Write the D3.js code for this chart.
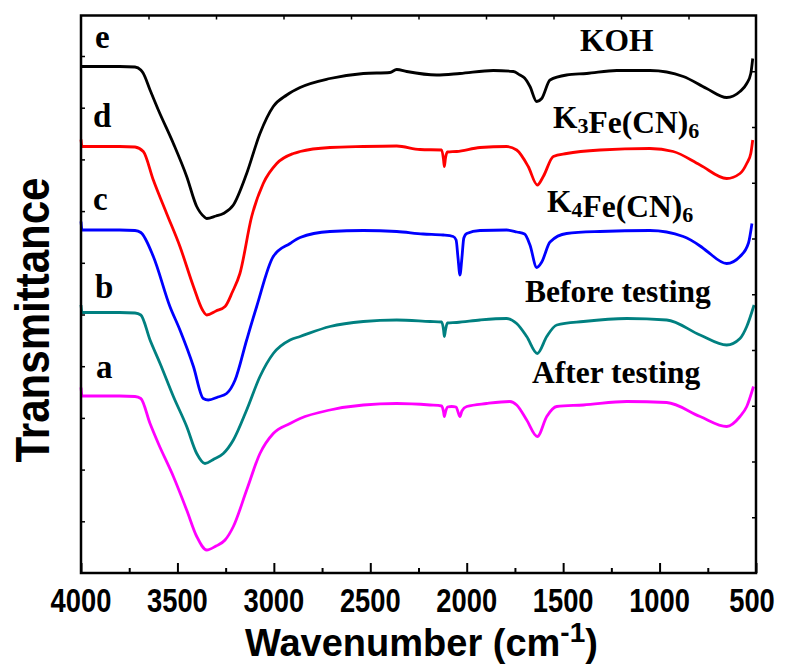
<!DOCTYPE html>
<html>
<head>
<meta charset="utf-8">
<script src="https://cdn.jsdelivr.net/npm/d3@7"></script>
<style>
  body { margin: 0; background: #fff; overflow: hidden; }
  .tick-label { font-family: "Liberation Sans", Arial, sans-serif; font-weight: bold; }
  .curve-label { font-family: "Liberation Serif", "Times New Roman", serif; font-weight: bold; }
</style>
</head>
<body>
<script>
// FTIR spectra, offset stacked (wavenumber in cm-1, transmittance in a.u.)

var xTicks = [4000, 3500, 3000, 2500, 2000, 1500, 1000, 500];
var xMinor = [3750, 3250, 2750, 2250, 1750, 1250, 750];

var letters = ["e", "d", "c", "b", "a"];
var names = ["KOH", "K3Fe(CN)6", "K4Fe(CN)6", "Before testing", "After testing"];
var colors = ["#000000", "#ff0000", "#0000ff", "#008080", "#ff00ff"];

var wnE = [4000,3900,3800,3720,3690,3678,3642,3599,3521,3452,3400,3360,3348,3300,3262,3210,3141,3072,3003,2933,2864,2709,2536,2398,2363,2311,2156,2035,1862,1758,1724,1700,1672,1637,1611,1568,1482,1378,1222,1049,877,756,652,583,548,527,517];
var tE = [101.3,101.3,101.3,101.2,100.6,100,96.6,92.6,85.9,79.3,73.3,71.2,70.9,71.4,71.9,73.6,79.9,87.9,93.3,95.6,97.1,98.9,99.9,100.1,100.7,100.3,99.6,99.9,100.5,100.3,99.6,99.0,97.3,94.3,94.9,98.6,99.6,99.9,100.5,100.5,99.3,96.9,95.1,96.3,97.9,99.9,102.9];

var wnD = [4000,3995,3900,3800,3720,3677,3625,3556,3487,3417,3370,3348,3300,3253,3215,3176,3115,3055,2985,2899,2864,2709,2536,2363,2242,2130,2120,2116,2110,2100,2052,1931,1793,1741,1681,1634,1603,1551,1482,1309,1050,929,790,652,583,548,527,517];
var tD = [86.7,85.3,85.3,85.3,85.2,84.3,78.6,71.9,65.3,57.3,52.6,51.6,52.4,53.3,56.2,59.9,71.3,77.9,81.9,83.9,84.3,85.1,85.3,85.4,84.7,84.6,82.6,81.3,83,84.2,84.3,85.1,85.3,84.6,81.3,77.6,79.3,83.3,83.9,84.6,84.9,84.3,81.6,78.9,79.9,81.9,83.9,86.6];

var wnC = [4000,3995,3900,3800,3720,3690,3625,3539,3487,3417,3366,3340,3290,3245,3201,3141,3089,3003,2916,2864,2709,2536,2363,2226,2122,2070,2055,2045,2035,2025,2015,2000,1931,1793,1740,1700,1672,1637,1611,1568,1482,1309,1050,877,790,756,652,583,539,521];
var tC = [70.3,68.6,68.6,68.6,68.5,68.1,63.3,53.3,48.6,41.3,34.9,34.6,35.2,35.9,38.6,46.6,53.3,63.3,65.9,67.1,68.3,68.5,68.3,67.8,67.6,67.3,66.6,63,59.6,63,67,67.9,68.5,68.6,68.2,67.8,65.6,61.1,62.2,66.2,67.9,68.3,68.5,67.3,65.4,64.4,61.9,63.3,66,69.9];

var wnB = [4000,3995,3900,3800,3720,3690,3642,3590,3521,3452,3400,3357,3310,3262,3210,3141,3072,3003,2916,2864,2709,2536,2363,2190,2130,2120,2116,2110,2100,2052,1931,1793,1741,1689,1634,1585,1533,1395,1170,963,790,652,583,548,510];
var tB = [53.6,52.1,52.1,52.1,52,51.6,46.6,41.9,35.3,29.3,23.9,21.9,22.8,23.9,26.6,32.6,39.3,43.9,46.6,47.3,49.3,50.3,50.6,50.3,50.2,48.6,47.3,48.6,50,50.1,50.6,50.9,49.9,47.3,43.9,47.3,49.6,50.3,50.9,50.6,47.6,45.6,46.9,49.3,53.6];

var wnA = [4000,3995,3900,3800,3720,3690,3642,3599,3521,3452,3400,3348,3300,3253,3210,3141,3072,3003,2916,2864,2709,2536,2363,2190,2130,2120,2116,2110,2100,2078,2055,2045,2035,2025,2000,1897,1776,1741,1689,1634,1585,1533,1395,1170,963,790,652,583,548,513];
var tA = [37.1,35.4,35.4,35.4,35.3,34.9,29.9,25.9,19.3,12.6,7.3,4.6,5.4,6.6,9.3,16.6,23.9,27.9,29.9,30.9,32.6,33.6,33.9,33.6,33.4,32.2,31.3,32.2,33.2,33.3,33.2,32.2,31.3,32.4,33.3,33.9,34.3,33.6,30.6,27.3,31.3,33.3,33.6,34.3,34.1,31.3,29.3,31.3,33.3,37.3];

var wns = [wnE, wnD, wnC, wnB, wnA];
var vals = [tE, tD, tC, tB, tA];

var width = 785, height = 670;
var margin = {top: 15.5, right: 28, bottom: 97, left: 81};

var svg = d3.select("body").append("svg")
    .attr("width", width)
    .attr("height", height);

var x = d3.scaleLinear()
    .domain([4000, 500])
    .range([margin.left, width - margin.right - 1]);

var y = d3.scaleLinear()
    .domain([0, 111.5])
    .range([height - margin.bottom, margin.top]);

var x0 = x.range()[0], x1 = x.range()[1];
var y0 = y.range()[0], y1 = y.range()[1];

// curves
var line = d3.line()
    .x(function(d) { return x(d[0]); })
    .y(function(d) { return y(d[1]); })
    .curve(d3.curveMonotoneX);

wns.forEach(function(w, i) {
  var pts = w.map(function(v, j) { return [v, vals[i][j]]; });
  svg.append("path")
      .datum(pts)
      .attr("fill", "none")
      .attr("stroke", colors[i])
      .attr("stroke-width", 2.8)
      .attr("stroke-linejoin", "round")
      .attr("d", line);
});

// bottom axis ticks (inward)
svg.append("g")
    .attr("transform", "translate(0," + y0 + ")")
    .call(d3.axisBottom(x).tickValues(xTicks).tickSize(-10).tickFormat(""))
    .call(function(g) { g.select(".domain").remove(); })
    .selectAll("line").attr("stroke-width", 2);

svg.append("g")
    .attr("transform", "translate(0," + y0 + ")")
    .call(d3.axisBottom(x).tickValues(xMinor).tickSize(-5).tickFormat(""))
    .call(function(g) { g.select(".domain").remove(); })
    .selectAll("line").attr("stroke-width", 2);

// top axis: 10 divisions
svg.append("g")
    .attr("transform", "translate(0," + y1 + ")")
    .call(d3.axisTop(x).tickValues(d3.range(3650, 600, -350)).tickSize(-4).tickFormat(""))
    .call(function(g) { g.select(".domain").remove(); })
    .selectAll("line").attr("stroke-width", 1.5);

// left axis ticks
svg.append("g")
    .attr("transform", "translate(" + x0 + ",0)")
    .call(d3.axisLeft(y).tickValues(d3.range(1, 11).map(function(k) { return k * 10.34; })).tickSize(-4).tickFormat(""))
    .call(function(g) { g.select(".domain").remove(); })
    .selectAll("line").attr("stroke-width", 1.5);

// right axis: 10 divisions
svg.append("g")
    .attr("transform", "translate(" + x1 + ",0)")
    .call(d3.axisRight(y).tickValues(d3.range(1, 10).map(function(k) { return k * 11.15; })).tickSize(-4).tickFormat(""))
    .call(function(g) { g.select(".domain").remove(); })
    .selectAll("line").attr("stroke-width", 1.5);

// frame
svg.append("rect")
    .attr("x", x0).attr("y", y1)
    .attr("width", x1 - x0).attr("height", y0 - y1)
    .attr("fill", "none")
    .attr("stroke", "#000")
    .attr("stroke-width", 2.5);

// tick labels
svg.selectAll(".xlab")
  .data(xTicks)
  .enter().append("text")
    .attr("class", "tick-label xlab")
    .attr("x", function(d) { return d === 500 ? x(d) - 4 : x(d); })
    .attr("y", 612)
    .attr("text-anchor", "middle")
    .attr("font-size", 34)
    .attr("textLength", function(d) { return String(d).length * 15.2; })
    .attr("lengthAdjust", "spacingAndGlyphs")
    .text(function(d) { return d; });

// axis titles
var xt = svg.append("text")
    .attr("class", "tick-label")
    .attr("x", 245)
    .attr("y", 656)
    .attr("font-size", 38);
xt.append("tspan").text("Wavenumber (cm");
xt.append("tspan").attr("dy", -14).attr("font-size", 28).text("-1");
xt.append("tspan").attr("dy", 14).text(")");

svg.append("text")
    .attr("class", "tick-label")
    .attr("transform", "translate(49,320) rotate(-90)")
    .attr("text-anchor", "middle")
    .attr("font-size", 48)
    .attr("textLength", 285)
    .attr("lengthAdjust", "spacingAndGlyphs")
    .text("Transmittance");

// curve letters
var letterPos = [[95, 48], [93, 127], [93, 210], [95, 298], [96, 378]];
svg.selectAll(".letter")
  .data(letters)
  .enter().append("text")
    .attr("class", "curve-label letter")
    .attr("x", function(d, i) { return letterPos[i][0]; })
    .attr("y", function(d, i) { return letterPos[i][1]; })
    .attr("font-size", 33)
    .text(function(d) { return d; });

// sample names, subscripts for digits in formulas
var namePos = [[580, 51], [553, 128], [547, 212], [525, 302], [532, 383]];
names.forEach(function(n, i) {
  var t = svg.append("text")
      .attr("class", "curve-label")
      .attr("x", namePos[i][0])
      .attr("y", namePos[i][1])
      .attr("font-size", 31.5);
  if (n.indexOf("Fe") > -1) {
    n.split(/(\d)/).forEach(function(part) {
      if (part === "") return;
      if (/\d/.test(part)) {
        t.append("tspan").attr("dy", 5).attr("font-size", 22).text(part);
        t.append("tspan").attr("dy", -5).text("");
      } else {
        t.append("tspan").text(part);
      }
    });
  } else {
    t.text(n);
  }
});
</script>
</body>
</html>
